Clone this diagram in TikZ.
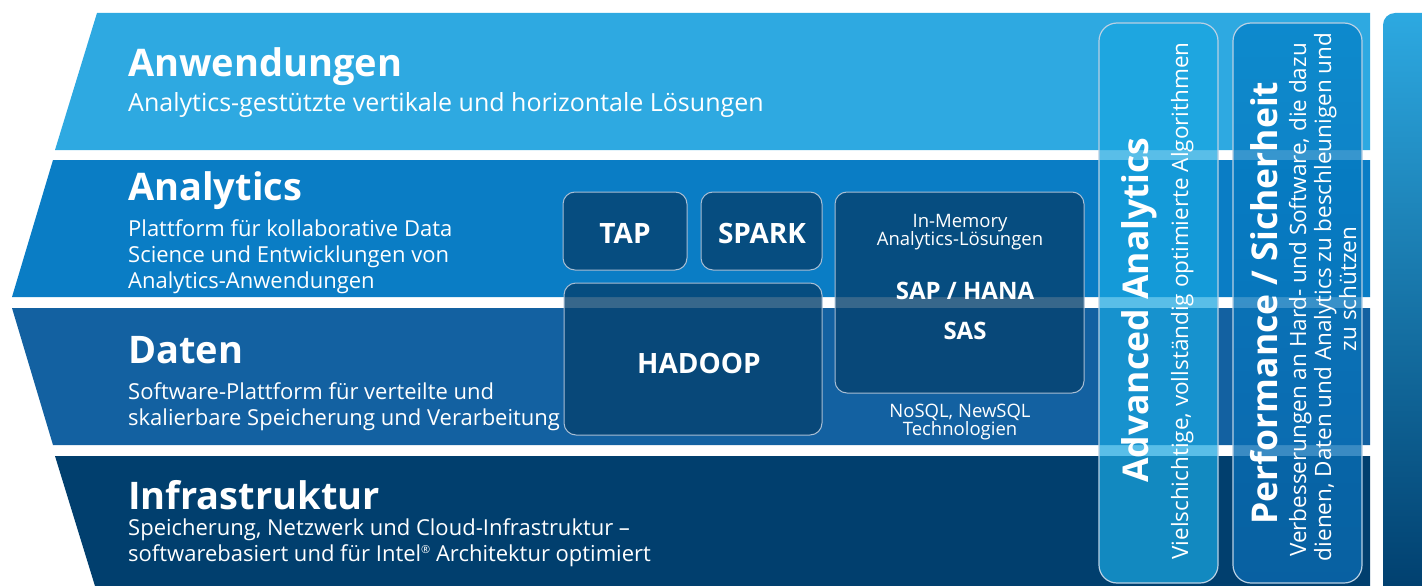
\documentclass[tikz,border=0pt]{standalone}
\usepackage{fontspec}
\setmainfont{Open Sans}
\definecolor{bandA}{HTML}{2EA9E1}
\definecolor{bandB}{HTML}{0A7DC5}
\definecolor{bandC}{HTML}{1361A1}
\definecolor{bandD}{HTML}{013F6E}
\definecolor{boxfill}{HTML}{06426F}
\definecolor{boxline}{HTML}{A8BED4}
\definecolor{pillline}{HTML}{B8D0E4}
\definecolor{advfill}{HTML}{19A6E0}
\definecolor{perftop}{HTML}{0582C8}
\definecolor{perfbot}{HTML}{0A69AF}
\definecolor{gtop}{HTML}{2DA9E1}
\definecolor{gmid}{HTML}{0981B9}
\definecolor{gbot}{HTML}{003E6D}
\begin{document}
\begin{tikzpicture}[x=1pt,y=-1pt,
  head/.style={font=\fontsize{38}{44}\selectfont\bfseries, text=white, anchor=base west, inner sep=0pt},
  sub/.style={font=\fontsize{22}{26}\selectfont, text=white, anchor=base west, inner sep=0pt},
  bigsub/.style={font=\fontsize{25}{29}\selectfont, text=white, anchor=base west, inner sep=0pt},
  techbox/.style={draw=boxline, line width=1pt, fill=boxfill, fill opacity=0.8, draw opacity=1, rounded corners=12pt, inner sep=0pt},
  boxlabel/.style={font=\fontsize{28}{32}\selectfont\bfseries, text=white, anchor=base, inner sep=0pt},
  midlabel/.style={font=\fontsize{24}{28}\selectfont\bfseries, text=white, anchor=base, inner sep=0pt},
  smalllabel/.style={font=\fontsize{18.5}{20}\selectfont, text=white, anchor=base, inner sep=0pt},
  pill/.style={draw=pillline, line width=1.2pt, rounded corners=18pt, inner sep=0pt, minimum height=560pt},
  ptitle/.style={font=\fontsize{35.5}{40}\selectfont\bfseries, text=white, rotate=90, anchor=base, inner sep=0pt},
  ptext/.style={font=\fontsize{22.5}{26}\selectfont, text=white, rotate=90, anchor=base, inner sep=0pt}
]
\useasboundingbox (0,0) rectangle (1422,586);
\fill[white] (0,0) rectangle (1422,586);
% bands
\fill[bandA] (97,13) -- (1370,13) -- (1370,150) -- (55,150) -- cycle;
\fill[bandB] (53,160) -- (1370,160) -- (1370,297) -- (12,297) -- cycle;
\fill[bandC] (12,308) -- (1370,308) -- (1370,445) -- (53,445) -- cycle;
\fill[bandD] (55,456) -- (1370,456) -- (1370,586) -- (95,586) -- cycle;
% right gradient bar
\shade[top color=gtop, middle color=gmid, bottom color=gbot, rounded corners=12pt]
  (1383,600) -- (1383,13) -- (1450,13) -- (1450,600) -- cycle;
% left texts
\node[head] (hA) at (128,77) {Anwendungen};
\node[bigsub] (sA1) at (128,111) {Analytics-gestützte vertikale und horizontale Lösungen};
\node[head] (hB) at (128,200) {Analytics};
\node[sub] (sB1) at (128,236) {Plattform für kollaborative Data};
\node[sub] (sB2) at (128,262) {Science und Entwicklungen von};
\node[sub] (sB3) at (128,288) {Analytics-Anwendungen};
\node[head] (hC) at (128,363) {Daten};
\node[sub] (sC1) at (128,399) {Software-Plattform für verteilte und};
\node[sub] (sC2) at (128,425) {skalierbare Speicherung und Verarbeitung};
\node[head] (hD) at (128,509) {Infrastruktur};
\node[sub] (sD1) at (128,535) {Speicherung, Netzwerk und Cloud-Infrastruktur –};
\node[sub] (sD2) at (128,561) {softwarebasiert und für Intel\raisebox{7.5pt}{\fontsize{11}{11}\selectfont ®} Architektur optimiert};
% technology boxes
\node[techbox, minimum width=124pt, minimum height=78pt] (tap) at (625,231) {};
\node[techbox, minimum width=121pt, minimum height=78pt] (spark) at (761.5,231) {};
\node[techbox, minimum width=258pt, minimum height=152pt] (hadoop) at (693,359) {};
\node[techbox, minimum width=249pt, minimum height=201pt] (inmem) at (959.5,292.5) {};
\node[boxlabel] (tapL) at (625,243) {TAP};
\node[boxlabel] (sparkL) at (762,243) {SPARK};
\node[boxlabel] (hadoopL) at (699,373) {HADOOP};
\node[smalllabel] (im1) at (960,227) {In-Memory};
\node[smalllabel] (im2) at (960,245) {Analytics-Lösungen};
\node[midlabel] (sap) at (965,299) {SAP / HANA};
\node[midlabel] (sas) at (965,339) {SAS};
\node[smalllabel] (nos1) at (960,417) {NoSQL, NewSQL};
\node[smalllabel] (nos2) at (960,435) {Technologien};
% vertical pills
\node[pill, fill=advfill, fill opacity=0.72, draw opacity=1, minimum width=119pt] (adv) at (1158.5,303) {};
\node[pill, top color=perftop, bottom color=perfbot, fill opacity=0.8, draw opacity=1, minimum width=129pt] (perf) at (1297.5,303) {};
\node[ptitle] (advT) at (1148,310) {Advanced Analytics};
\node[ptext] (advS) at (1188,301) {Vielschichtige, vollständig optimierte Algorithmen};
\node[ptitle] (perfT) at (1277,303) {Performance / Sicherheit};
\node[ptext] (perf1) at (1306,300) {Verbesserungen an Hard- und Software, die dazu};
\node[ptext] (perf2) at (1331,297) {dienen, Daten und Analytics zu beschleunigen und};
\node[ptext] (perf3) at (1356,289) {zu schützen};
\end{tikzpicture}
\end{document}
